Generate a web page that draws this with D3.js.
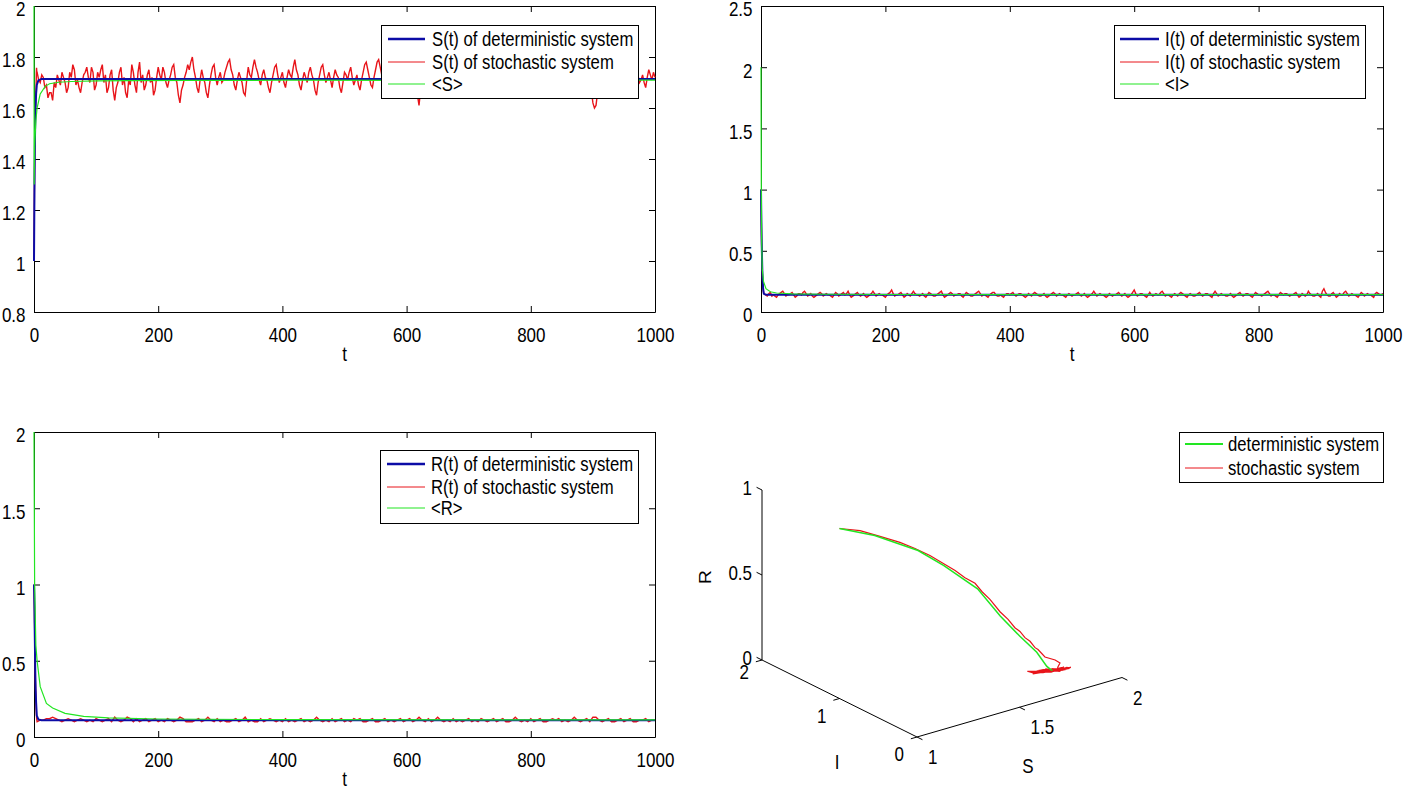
<!DOCTYPE html>
<html>
<head>
<meta charset="utf-8">
<script src="https://cdn.jsdelivr.net/npm/d3@7"></script>
<style>
  body { margin: 0; background: #fff; }
  svg { display: block; font-family: "Liberation Sans", Arial, Helvetica, sans-serif; }
</style>
</head>
<body>
<svg id="fig" width="1405" height="793"></svg>
<script>
// ---------- values ----------
const tTicks = [0, 200, 400, 600, 800, 1000];
const sTicks = [0.8, 1, 1.2, 1.4, 1.6, 1.8, 2];
const iTicks = [0, 0.5, 1, 1.5, 2, 2.5];
const rTicks = [0, 0.5, 1, 1.5, 2];

// deterministic solution
const detT = [0, 0.3, 0.7, 1.0, 1.5, 2.0, 2.6, 3.4, 4.5, 7, 12, 1000];
const detS = [1.00, 1.115, 1.27, 1.358, 1.477, 1.542, 1.604, 1.656, 1.69, 1.708, 1.714, 1.714];
const detI = [1.00, 0.85, 0.70, 0.60, 0.48, 0.36, 0.27, 0.19, 0.15, 0.142, 0.14, 0.14];
const detR = [1.00, 0.952, 0.844, 0.747, 0.596, 0.44, 0.32, 0.226, 0.14, 0.115, 0.11, 0.11];

// stochastic path, early transient
const stoT0 = [0, 0.15, 0.3, 0.45, 0.6, 0.75, 0.9, 1.05, 1.2, 1.35, 1.5, 1.65, 1.8, 2.0, 2.2, 2.4, 2.6, 2.8, 3.0, 3.2, 3.5, 3.8, 4.1, 4.4];
const stoS0 = [1.00, 1.070, 1.137, 1.204, 1.255, 1.305, 1.356, 1.390, 1.423, 1.457, 1.480, 1.507, 1.541, 1.569, 1.591, 1.608, 1.625, 1.642, 1.659, 1.666, 1.696, 1.738, 1.758, 1.744];
const stoI0 = [1.00, 0.92, 0.84, 0.76, 0.70, 0.64, 0.58, 0.54, 0.50, 0.46, 0.43, 0.40, 0.36, 0.33, 0.30, 0.28, 0.26, 0.24, 0.22, 0.20, 0.19, 0.17, 0.16, 0.15];
const stoR0 = [1.00, 0.981, 0.942, 0.901, 0.861, 0.816, 0.759, 0.721, 0.676, 0.640, 0.589, 0.542, 0.466, 0.418, 0.368, 0.345, 0.307, 0.284, 0.245, 0.236, 0.184, 0.156, 0.134, 0.117];

// stochastic path, t = 5, 10, ..., 1000
const noiseT = d3.range(5, 1001, 5);
const noiseS = [
  1.74,1.70,1.72,1.69,1.66,1.63,1.68,1.71,1.74,1.70,
  1.68,1.72,1.75,1.71,1.66,1.73,1.76,1.70,1.74,1.69,
  1.72,1.77,1.73,1.68,1.75,1.63,1.70,1.76,1.72,1.64,
  1.69,1.74,1.66,1.78,1.73,1.69,1.75,1.72,1.67,1.76,
  1.71,1.74,1.68,1.73,1.77,1.70,1.62,1.69,1.74,1.75,
  1.80,1.72,1.66,1.75,1.70,1.64,1.73,1.77,1.69,1.74,
  1.71,1.76,1.79,1.73,1.67,1.74,1.70,1.65,1.76,1.72,
  1.79,1.74,1.69,1.75,1.71,1.66,1.73,1.77,1.70,1.74,
  1.68,1.75,1.72,1.79,1.73,1.67,1.74,1.70,1.76,1.71,
  1.65,1.73,1.77,1.70,1.74,1.68,1.75,1.72,1.66,1.74,
  1.71,1.76,1.69,1.73,1.67,1.74,1.78,1.72,1.68,1.75,
  1.79,1.73,1.66,1.74,1.70,1.76,1.72,1.68,1.75,1.71,
  1.67,1.74,1.70,1.61,1.72,1.76,1.69,1.74,1.71,1.65,
  1.73,1.77,1.70,1.74,1.68,1.75,1.72,1.79,1.71,1.67,
  1.74,1.70,1.76,1.66,1.73,1.78,1.71,1.68,1.75,1.72,
  1.69,1.74,1.77,1.70,1.65,1.73,1.76,1.71,1.74,1.68,
  1.75,1.71,1.66,1.74,1.78,1.72,1.69,1.73,1.67,1.75,
  1.71,1.76,1.70,1.64,1.73,1.77,1.72,1.68,1.74,1.62,
  1.61,1.70,1.75,1.72,1.67,1.74,1.78,1.71,1.69,1.75,
  1.72,1.66,1.74,1.77,1.70,1.73,1.68,1.75,1.71,1.72
];
const noiseI = [
  0.15,0.13,0.16,0.14,0.12,0.15,0.17,0.13,0.14,0.16,
  0.12,0.15,0.14,0.17,0.13,0.15,0.12,0.14,0.16,0.13,
  0.15,0.14,0.12,0.16,0.13,0.15,0.14,0.17,0.12,0.14,
  0.16,0.13,0.15,0.12,0.14,0.17,0.13,0.15,0.14,0.12,
  0.15,0.18,0.13,0.14,0.16,0.12,0.15,0.13,0.17,0.14,
  0.13,0.15,0.12,0.16,0.14,0.13,0.15,0.17,0.12,0.14,
  0.16,0.13,0.14,0.15,0.12,0.16,0.14,0.13,0.15,0.17,
  0.13,0.14,0.12,0.15,0.16,0.13,0.14,0.12,0.15,0.14,
  0.16,0.13,0.15,0.14,0.12,0.15,0.13,0.16,0.14,0.13,
  0.15,0.12,0.14,0.16,0.13,0.15,0.14,0.12,0.15,0.13,
  0.14,0.16,0.13,0.15,0.12,0.14,0.17,0.13,0.15,0.14,
  0.12,0.15,0.13,0.14,0.16,0.13,0.15,0.12,0.14,0.18,
  0.13,0.15,0.14,0.12,0.16,0.13,0.15,0.14,0.17,0.13,
  0.14,0.12,0.15,0.13,0.16,0.14,0.12,0.15,0.13,0.14,
  0.16,0.13,0.15,0.14,0.12,0.17,0.13,0.15,0.14,0.13,
  0.15,0.12,0.14,0.16,0.13,0.15,0.14,0.12,0.16,0.14,
  0.13,0.15,0.17,0.13,0.14,0.12,0.16,0.14,0.15,0.13,
  0.14,0.16,0.12,0.15,0.13,0.17,0.14,0.13,0.15,0.12,
  0.19,0.14,0.13,0.16,0.12,0.15,0.14,0.17,0.13,0.15,
  0.14,0.12,0.16,0.13,0.15,0.14,0.12,0.16,0.14,0.15
];
const noiseR = [
  0.10,0.11,0.11,0.12,0.12,0.13,0.12,0.11,0.10,0.11,
  0.12,0.11,0.10,0.11,0.12,0.11,0.10,0.11,0.10,0.12,
  0.11,0.10,0.11,0.12,0.10,0.13,0.11,0.10,0.11,0.13,
  0.12,0.10,0.12,0.10,0.11,0.12,0.10,0.11,0.12,0.10,
  0.11,0.10,0.12,0.11,0.10,0.11,0.13,0.12,0.10,0.10,
  0.10,0.11,0.12,0.10,0.11,0.13,0.11,0.10,0.12,0.10,
  0.11,0.10,0.10,0.11,0.12,0.10,0.11,0.13,0.10,0.11,
  0.10,0.10,0.12,0.10,0.11,0.12,0.11,0.10,0.11,0.10,
  0.12,0.10,0.11,0.10,0.11,0.12,0.10,0.11,0.10,0.11,
  0.13,0.11,0.10,0.11,0.10,0.12,0.10,0.11,0.12,0.10,
  0.11,0.10,0.12,0.11,0.12,0.10,0.10,0.11,0.12,0.10,
  0.10,0.11,0.12,0.10,0.11,0.10,0.11,0.12,0.10,0.11,
  0.12,0.10,0.11,0.13,0.11,0.10,0.12,0.10,0.11,0.13,
  0.11,0.10,0.11,0.10,0.12,0.10,0.11,0.10,0.11,0.12,
  0.10,0.11,0.10,0.12,0.11,0.10,0.11,0.12,0.10,0.11,
  0.12,0.10,0.10,0.11,0.13,0.11,0.10,0.11,0.10,0.12,
  0.10,0.11,0.12,0.10,0.10,0.11,0.12,0.11,0.12,0.10,
  0.11,0.10,0.11,0.13,0.11,0.10,0.11,0.12,0.10,0.13,
  0.13,0.11,0.10,0.11,0.12,0.10,0.10,0.11,0.12,0.10,
  0.11,0.12,0.10,0.10,0.11,0.11,0.12,0.10,0.11,0.11
];

// extra samples in between, t = 7.5, 12.5, ..., 997.5 (S and I only)
const midT = d3.range(7.5, 1000, 5);
const midS = [
  1.71,1.73,1.68,1.64,1.66,1.70,1.73,1.69,1.72,1.66,
  1.74,1.77,1.69,1.68,1.70,1.74,1.72,1.76,1.67,1.74,
  1.75,1.70,1.66,1.73,1.67,1.68,1.74,1.69,1.66,1.71,
  1.77,1.69,1.74,1.70,1.67,1.73,1.70,1.65,1.72,1.73,
  1.76,1.70,1.71,1.76,1.72,1.65,1.67,1.72,1.77,1.78,
  1.75,1.68,1.71,1.72,1.66,1.69,1.76,1.72,1.72,1.70,
  1.74,1.78,1.75,1.69,1.71,1.72,1.66,1.71,1.73,1.76,
  1.76,1.71,1.73,1.72,1.68,1.70,1.76,1.73,1.72,1.70,
  1.72,1.73,1.76,1.75,1.69,1.71,1.72,1.74,1.73,1.67,
  1.70,1.76,1.73,1.72,1.71,1.72,1.73,1.68,1.70,1.73,
  1.74,1.72,1.71,1.69,1.71,1.77,1.75,1.69,1.72,1.78,
  1.76,1.69,1.70,1.72,1.74,1.73,1.69,1.72,1.73,1.68,
  1.71,1.72,1.65,1.67,1.75,1.72,1.72,1.73,1.67,1.69,
  1.76,1.73,1.72,1.70,1.71,1.74,1.76,1.75,1.68,1.71,
  1.72,1.73,1.69,1.70,1.76,1.74,1.69,1.72,1.74,1.70,
  1.72,1.76,1.73,1.67,1.69,1.75,1.73,1.73,1.70,1.72,
  1.73,1.68,1.70,1.77,1.75,1.70,1.71,1.69,1.72,1.73,
  1.74,1.73,1.66,1.69,1.76,1.75,1.69,1.71,1.67,1.60,
  1.66,1.73,1.74,1.69,1.71,1.77,1.74,1.70,1.73,1.74,
  1.69,1.70,1.76,1.73,1.71,1.70,1.72,1.73,1.74
];
const midI = [
  0.14,0.15,0.13,0.13,0.14,0.16,0.15,0.14,0.15,0.14,
  0.13,0.15,0.16,0.15,0.14,0.13,0.13,0.15,0.15,0.14,
  0.14,0.13,0.14,0.15,0.14,0.16,0.15,0.14,0.13,0.15,
  0.14,0.14,0.13,0.13,0.15,0.15,0.14,0.14,0.13,0.14,
  0.16,0.15,0.14,0.15,0.14,0.13,0.14,0.15,0.15,0.14,
  0.14,0.13,0.14,0.15,0.13,0.14,0.16,0.14,0.13,0.15,
  0.15,0.14,0.15,0.13,0.14,0.15,0.13,0.14,0.16,0.15,
  0.14,0.13,0.14,0.16,0.14,0.13,0.13,0.14,0.15,0.15,
  0.14,0.14,0.15,0.13,0.13,0.14,0.15,0.15,0.13,0.14,
  0.13,0.13,0.15,0.15,0.14,0.14,0.13,0.14,0.14,0.14,
  0.15,0.14,0.14,0.13,0.13,0.15,0.15,0.14,0.14,0.13,
  0.13,0.14,0.14,0.15,0.14,0.14,0.13,0.13,0.16,0.15,
  0.14,0.15,0.13,0.14,0.14,0.14,0.14,0.16,0.15,0.14,
  0.13,0.14,0.14,0.15,0.15,0.13,0.14,0.14,0.13,0.15,
  0.14,0.14,0.15,0.13,0.15,0.15,0.14,0.14,0.13,0.14,
  0.13,0.13,0.15,0.14,0.14,0.15,0.13,0.14,0.15,0.14,
  0.14,0.16,0.15,0.14,0.13,0.14,0.15,0.15,0.14,0.14,
  0.15,0.14,0.13,0.14,0.14,0.15,0.13,0.14,0.13,0.17,
  0.16,0.13,0.15,0.14,0.13,0.14,0.16,0.15,0.14,0.14,
  0.13,0.14,0.15,0.14,0.14,0.13,0.15,0.15,0.14
];

// averages <S>, <I>, <R>
const meanST = [0, 0.3, 1, 3, 5, 10, 18, 25, 40, 60, 100, 150, 250, 400, 600, 800, 1000];
const meanS  = [2.0, 1.30, 1.45, 1.55, 1.60, 1.655, 1.685, 1.695, 1.701, 1.704, 1.706, 1.707, 1.708, 1.709, 1.708, 1.709, 1.709];
const meanIT = [0, 0.5, 1, 2, 4, 8, 15, 25, 50, 100, 200, 1000];
const meanI  = [2.0, 1.0, 0.6, 0.35, 0.25, 0.19, 0.165, 0.155, 0.148, 0.145, 0.143, 0.142];
const meanRT = [0, 1, 3, 5, 10, 20, 30, 50, 80, 120, 200, 400, 1000];
const meanR  = [2.0, 1.0, 0.6, 0.5, 0.33, 0.22, 0.19, 0.155, 0.135, 0.125, 0.118, 0.114, 0.112];

// 3-D view ticks
const s3Ticks = [1, 1.5, 2];
const i3Ticks = [0, 1, 2];
const r3Ticks = [0, 0.5, 1];

const blue = "#0c0ca6", red = "#e8141a", green = "#22e622";

const svg = d3.select("#fig");

// time series of the stochastic path as [t, value] pairs
function stoSeries(v0, v, mid) {
  let pts = d3.zip(stoT0, v0).concat(d3.zip(noiseT, v));
  if (mid) pts = pts.concat(d3.zip(midT, mid));
  return d3.sort(pts, d => d[0]);
}

// text is slightly taller than wide in the original
function label(g, x, y, s, anchor) {
  return g.append("text")
    .attr("transform", `translate(${x},${y}) scale(1,1.2)`)
    .attr("text-anchor", anchor || "start")
    .style("font-size", "17px")
    .text(s);
}

function drawLegend(g, lg, rows) {
  g.append("rect")
    .attr("x", lg.x + 0.5).attr("y", lg.y + 0.5)
    .attr("width", lg.w).attr("height", lg.h)
    .attr("fill", "#fff").attr("stroke", "#000").attr("stroke-width", 1);
  rows.forEach((r, i) => {
    const yy = lg.y + lg.rows[i];
    g.append("line")
      .attr("x1", lg.x1).attr("x2", lg.x2).attr("y1", yy).attr("y2", yy)
      .attr("stroke", r.color).attr("stroke-width", r.width);
    label(g, lg.tx, yy + 7, r.text).style("font-size", "16.7px");
  });
}

function timePanel(p) {
  const g = svg.append("g");
  const x = d3.scaleLinear().domain([0, 1000]).range([p.left, p.right]);
  const y = d3.scaleLinear().domain(p.yDomain).range([p.bottom, p.top]);

  const axisG = (ax, tx, ty) => {
    const a = g.append("g")
      .attr("transform", `translate(${tx},${ty})`)
      .call(ax.tickSizeInner(-6).tickSizeOuter(0).tickPadding(0));
    a.select(".domain").attr("stroke", "#000");
    a.selectAll(".tick line").attr("stroke", "#000");
    a.selectAll("text").style("font-size", "17px").attr("fill", "#000");
    return a;
  };
  const bottom = axisG(d3.axisBottom(x).tickValues(tTicks).tickFormat(d3.format("d")), 0, p.bottom);
  axisG(d3.axisTop(x).tickValues(tTicks).tickFormat(""), 0, p.top);
  const left = axisG(d3.axisLeft(y).tickValues(p.yTicks).tickFormat(d3.format("~g")), p.left, 0);
  axisG(d3.axisRight(y).tickValues(p.yTicks).tickFormat(""), p.right, 0);

  bottom.selectAll(".tick text")
    .attr("y", 25).attr("dy", null).attr("transform", "scale(1,1.2)");
  left.selectAll(".tick text")
    .attr("x", -8.5).attr("y", 8.3).attr("dy", null).attr("transform", "scale(1,1.2)");

  label(g, (p.left + p.right) / 2, p.bottom + 49, "t", "middle");

  const clipId = "clip" + p.id;
  svg.append("clipPath").attr("id", clipId).append("rect")
    .attr("x", p.left - 1).attr("y", p.top - 1)
    .attr("width", p.right - p.left + 2).attr("height", p.bottom - p.top + 2);
  const plot = g.append("g").attr("clip-path", `url(#${clipId})`);
  const line = d3.line().x(d => x(d[0])).y(d => y(d[1]));

  plot.append("path").datum(p.sto).attr("d", line)
    .attr("fill", "none").attr("stroke", red).attr("stroke-width", 1.4);
  plot.append("path").datum(d3.zip(detT, p.det)).attr("d", line)
    .attr("fill", "none").attr("stroke", blue).attr("stroke-width", 2);
  plot.append("path").datum(d3.zip(p.meanT, p.mean)).attr("d", line)
    .attr("fill", "none").attr("stroke", green).attr("stroke-width", 1.2);

  drawLegend(g, p.legend, [
    { text: p.names[0], color: blue, width: 2.5 },
    { text: p.names[1], color: red, width: 1 },
    { text: p.names[2], color: green, width: 1.2 }
  ]);
}

timePanel({
  id: "S", left: 34, right: 655, top: 6, bottom: 312,
  yDomain: [0.8, 2], yTicks: sTicks,
  det: detS, sto: stoSeries(stoS0, noiseS, midS), meanT: meanST, mean: meanS,
  names: ["S(t) of deterministic system", "S(t) of stochastic system", "<S>"],
  legend: { x: 381, y: 25, w: 257, h: 73, x1: 388, x2: 425, tx: 432, rows: [14, 37, 59] }
});
timePanel({
  id: "I", left: 761, right: 1383, top: 6, bottom: 312,
  yDomain: [0, 2.5], yTicks: iTicks,
  det: detI, sto: stoSeries(stoI0, noiseI, midI), meanT: meanIT, mean: meanI,
  names: ["I(t) of deterministic system", "I(t) of stochastic system", "<I>"],
  legend: { x: 1114, y: 25, w: 251, h: 73, x1: 1120, x2: 1159, tx: 1165, rows: [14, 37, 59] }
});
timePanel({
  id: "R", left: 34, right: 655, top: 432, bottom: 737,
  yDomain: [0, 2], yTicks: rTicks,
  det: detR, sto: stoSeries(stoR0, noiseR), meanT: meanRT, mean: meanR,
  names: ["R(t) of deterministic system", "R(t) of stochastic system", "<R>"],
  legend: { x: 380, y: 450, w: 258, h: 73, x1: 387, x2: 425, tx: 431, rows: [14, 37, 58] }
});

// ---------- 3-D phase portrait (MATLAB default view) ----------
const g3 = svg.append("g");
const u = d3.scaleLinear().domain([1, 2]).range([0, 1]);   // S
const v = d3.scaleLinear().domain([0, 2]).range([0, 1]);   // I
const w = d3.scaleLinear().domain([0, 1]).range([0, 1]);   // R
const ex = [205, -59.5], ey = [-155, -77], ez = [0, -170], origin = [917, 737];
function p3(S, I, R) {
  const a = u(S), b = v(I), c = w(R);
  return [origin[0] + a * ex[0] + b * ey[0] + c * ez[0],
          origin[1] + a * ex[1] + b * ey[1] + c * ez[1]];
}
const seg = (pa, pb) => g3.append("line")
  .attr("x1", pa[0]).attr("y1", pa[1]).attr("x2", pb[0]).attr("y2", pb[1])
  .attr("stroke", "#000").attr("stroke-width", 1);

seg(p3(1, 0, 0), p3(2, 0, 0));
seg(p3(1, 0, 0), p3(1, 2, 0));
seg(p3(1, 2, 0), p3(1, 2, 1));

s3Ticks.forEach(s => {
  seg(p3(s, 0, 0), p3(s, -0.07, 0));
  const q = p3(s, 0, 0);
  label(g3, q[0] + 11, q[1] + 27, d3.format("~g")(s), "start");
});
const iLabelDy = [24, 24, 19];
i3Ticks.forEach((i, k) => {
  seg(p3(1, i, 0), p3(0.97, i, 0));
  const q = p3(1, i, 0);
  label(g3, q[0] - 13, q[1] + iLabelDy[k], d3.format("~g")(i), "end");
});
r3Ticks.forEach(r => {
  seg(p3(1, 2, r), p3(1, 2.07, r));
  const q = p3(1, 2, r);
  label(g3, q[0] - 10, q[1] + 5, d3.format("~g")(r), "end");
});
label(g3, 1028, 773, "S", "middle");
label(g3, 837, 769, "I", "middle");
g3.append("text")
  .attr("transform", "translate(711,577) scale(1,1.2) rotate(-90)")
  .attr("text-anchor", "middle").style("font-size", "16px").text("R");

const line3 = d3.line().x(d => p3(d[0], d[1], d[2])[0]).y(d => p3(d[0], d[1], d[2])[1]);
g3.append("path")
  .datum(d3.zip(stoS0.concat(noiseS), stoI0.concat(noiseI), stoR0.concat(noiseR)))
  .attr("d", line3).attr("fill", "none").attr("stroke", red).attr("stroke-width", 1.2);
g3.append("path")
  .datum(d3.zip(detS, detI, detR))
  .attr("d", line3).attr("fill", "none").attr("stroke", green).attr("stroke-width", 1.5);

drawLegend(g3, { x: 1179, y: 432, w: 204, h: 50, x1: 1185, x2: 1223, tx: 1228, rows: [12, 36] }, [
  { text: "deterministic system", color: green, width: 2.2 },
  { text: "stochastic system", color: red, width: 1 }
]);
</script>
</body>
</html>
